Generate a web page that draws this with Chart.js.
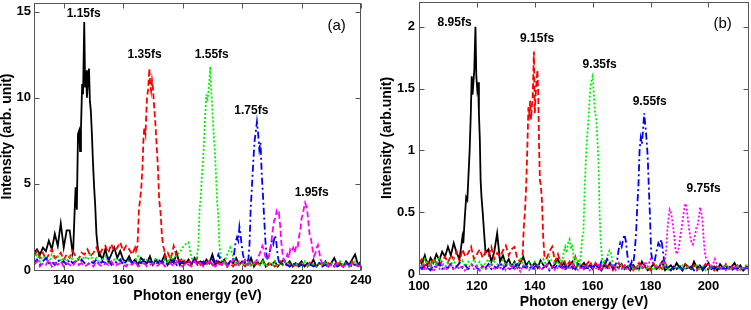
<!DOCTYPE html>
<html>
<head>
<meta charset="utf-8">
<script src="https://cdn.jsdelivr.net/npm/chart.js@4.4.1/dist/chart.umd.min.js"></script>
<style>
  html, body { margin: 0; padding: 0; background: #fff; }
  #wrap { position: relative; width: 751px; height: 310px; overflow: hidden; }
  #wrap canvas { position: absolute; top: 0; }
  #chartA { left: 0; }
  #chartB { left: 380px; }
</style>
</head>
<body>
<div id="wrap">
  <canvas id="chartA" width="375" height="310"></canvas>
  <canvas id="chartB" width="371" height="310"></canvas>
</div>
<script>
// ---- Panel (a): 130..240 eV, 1 eV baseline grid + finer samples around each peak ----
const energyA = [130,131,132,133,134,135,136,137,138,139,140,141,142,143,144,145,146,147,148,149,
  150,151,152,153,154,155,156,157,158,159,160,161,162,163,164,165,166,167,168,169,
  170,171,172,173,174,175,176,177,178,179,180,181,182,183,184,185,186,187,188,189,
  190,191,192,193,194,195,196,197,198,199,200,201,202,203,204,205,206,207,208,209,
  210,211,212,213,214,215,216,217,218,219,220,221,222,223,224,225,226,227,228,229,
  230,231,232,233,234,235,236,237,238,239,240];
const xTicksA = [140, 160, 180, 200, 220, 240];
const yTicksA = [0, 5, 10, 15];

const blackA = [1.0,1.2,0.9,1.3,1.1,1.7,1.2,2.1,1.4,2.7, 1.3,2.3,2.3,1.0,5,8,10,14,11,9,
  5,2,1.0,0.6,1.2,0.5,0.9,1.3,0.7,1.1, 0.6,0.5,0.8,0.4,0.6,0.3,0.7,0.5,0.4,0.8,
  0.3,0.6,0.4,0.5,0.9,0.3,0.6,0.4,1.0,0.3, 0.5,0.4,0.6,0.3,0.7,0.4,0.5,0.3,0.6,0.4,
  0.9,0.3,0.5,0.4,0.6,0.2,0.5,0.4,0.7,0.3, 0.5,0.4,0.3,0.7,0.2,0.5,0.3,0.6,0.2,0.4,
  0.3,0.5,0.2,0.4,0.6,0.3,0.5,0.2,0.4,0.3, 0.5,0.2,0.4,0.3,0.6,0.2,0.4,0.3,0.5,0.2,
  0.4,0.7,0.3,0.4,0.2,0.5,0.3,0.6,0.9,0.3,0.5];
const blackPeakXA = [143.2,143.6,144.0,144.4,144.8,145.2,145.5,145.8,146.2,146.5,146.9,147.2,147.5,147.8,148.1,148.5,148.8,149.1,149.5,149.8,150.2,150.6,151.0,151.4,151.9];
const blackPeakYA = [1.2,3.1,4.8,3.5,7.9,8.1,6.9,8.2,10.8,10.2,14.4,10.6,11.6,10.0,10.8,11.7,9.8,9.3,7.8,6.4,4.9,3.7,2.1,1.4,0.8];

const redA = [0.8,1.1,0.7,1.0,0.6,0.9,1.2,0.7,0.8,1.0, 0.6,0.9,0.7,1.1,0.8,0.6,1.0,0.9,1.2,0.8,
  1.0,1.3,0.9,1.2,1.4,1.0,1.5,1.1,1.3,1.6, 1.1,1.4,1.2,0.9,1.3,4,8,10,11,11,
  10,7,4,2,0.7,1.0,0.6,1.4,0.8,0.5, 0.7,0.4,0.6,0.3,0.5,0.7,0.3,0.5,0.4,0.6,
  0.3,0.5,0.4,0.2,0.6,0.3,0.4,0.2,0.5,0.3, 0.4,0.2,0.5,0.3,0.2,0.4,0.3,0.5,0.2,0.3,
  0.4,0.2,0.3,0.5,0.2,0.3,0.4,0.2,0.3,0.2, 0.4,0.3,0.2,0.5,0.3,0.2,0.4,0.3,0.2,0.4,
  0.3,0.2,0.5,0.3,0.2,0.4,0.3,0.5,0.2,0.3,0.4];
const redPeakXA = [164.3,164.8,165.3,165.7,166.1,166.5,166.8,167.1,167.5,168.0,168.4,168.8,169.1,169.4,169.7,170.0,170.4,170.8,171.3,171.7,172.1,172.6,173.0,173.4,173.8];
const redPeakYA = [1.1,1.4,3.5,4.1,4.8,6.0,7.5,8.3,7.9,10.0,10.5,11.7,10.8,10.4,11.0,10.6,9.5,8.6,7.1,5.9,4.1,3.3,2.1,1.4,1.2];

const greenA = [0.6,0.9,0.5,0.8,0.7,0.4,0.9,0.6,0.8,0.5, 0.7,0.5,0.8,0.6,0.4,0.7,0.5,0.8,0.6,0.9,
  0.5,0.7,0.4,0.6,0.8,0.5,0.3,0.6,0.4,0.7, 0.5,0.3,0.6,0.4,0.5,0.8,0.4,0.3,0.6,0.5,
  0.4,0.7,0.5,0.3,0.6,0.4,0.8,0.5,0.9,1.0, 1.3,1.5,1.6,0.7,0.5,1,5,8,10,12,
  9,5,2,0.6,0.4,0.9,1.3,0.8,0.4,0.3, 0.4,0.3,0.5,0.2,0.4,0.6,0.3,0.5,0.2,0.4,
  0.3,0.5,0.2,0.4,0.3,0.5,0.2,0.3,0.4,0.2, 0.3,0.5,0.2,0.4,0.3,0.2,0.4,0.3,0.5,0.2,
  0.4,0.3,0.2,0.5,0.3,0.4,0.2,0.3,0.5,0.2,0.3];
const greenPeakXA = [184.8,185.3,185.7,186.1,186.5,186.9,187.3,187.7,188.0,188.3,188.7,189.0,189.3,189.6,190.0,190.4,190.8,191.2,191.6,192.0,192.4,192.8];
const greenPeakYA = [0.8,1.4,3.5,4.2,5.6,6.4,7.9,9.3,10.2,9.8,10.4,11.0,11.8,10.5,9.3,8.0,7.0,5.6,4.0,3.1,1.4,0.8];

const blueA = [0.4,0.6,0.3,0.5,0.7,0.4,0.5,0.3,0.6,0.4, 0.5,0.3,0.6,0.4,0.5,0.3,0.6,0.4,0.3,0.5,
  0.4,0.6,0.3,0.5,0.4,0.7,0.3,0.5,0.4,0.6, 0.3,0.5,0.6,0.4,0.3,0.5,0.4,0.6,0.3,0.5,
  0.4,0.3,0.6,0.4,0.5,0.3,0.4,0.6,0.3,0.5, 0.4,0.3,0.5,0.4,0.6,0.3,0.4,0.5,0.3,0.4,
  0.6,0.3,0.9,0.5,0.4,0.3,0.5,1,2,2, 1,0.5,3,6,8,7,5,2,0.8,1.2,
  2,2,1,0.5,0.4,0.3,0.2,0.4,0.3,0.2, 0.3,0.2,0.4,0.3,0.2,0.3,0.4,0.2,0.3,0.2,
  0.3,0.4,0.2,0.3,0.2,0.4,0.3,0.2,0.3,0.4,0.2];
const bluePeakXA = [196.8,197.3,197.8,198.3,198.7,199.1,199.5,199.9,200.3,200.7,201.1,201.6,202.1,202.5,202.9,203.3,203.8,204.2,204.6,205.0,
  205.4,205.8,206.2,206.6,207.0,207.4,207.8,208.2,208.6,209.0,209.5,210.0,210.5,211.0,211.4,211.8,212.2,212.6,213.0];
const bluePeakYA = [0.5,0.9,1.6,1.9,1.7,2.5,2.0,1.4,0.9,0.6,0.4,0.5,0.6,1.5,3.6,4.8,6.4,7.5,8.0,8.6,
  7.9,7.0,7.4,5.6,4.4,3.1,1.8,0.9,0.6,0.8,1.2,1.7,1.5,2.0,1.8,1.1,0.6,0.4,0.3];

const magentaA = [0.3,0.5,0.2,0.4,0.3,0.6,0.2,0.4,0.3,0.5, 0.2,0.4,0.3,0.2,0.5,0.3,0.4,0.2,0.3,0.4,
  0.2,0.5,0.3,0.2,0.4,0.3,0.5,0.2,0.3,0.4, 0.3,0.2,0.4,0.3,0.5,0.2,0.3,0.4,0.2,0.3,
  0.4,0.2,0.3,0.5,0.2,0.3,0.4,0.2,0.5,0.3, 0.2,0.4,0.3,0.2,0.5,0.3,0.4,0.2,0.3,0.5,
  0.3,0.2,0.4,0.3,0.5,0.2,0.4,0.6,0.3,0.5, 0.4,0.6,0.3,0.5,0.4,0.6,1.0,1.3,0.7,1.2,
  2.5,3.2,3.3,1.5,0.6,0.8,1.2,1.1,1.4,2.0, 3.4,3.8,3.2,1.8,0.8,1.4,0.8,0.4,0.3,0.2,
  0.3,0.2,0.4,0.3,0.2,0.3,0.2,0.4,0.3,0.2,0.3];
const magentaPeakXA = [204.8,205.3,205.8,206.3,206.8,207.3,207.8,208.3,208.8,209.3,209.8,210.3,210.8,211.2,211.6,212.0,212.4,212.8,213.2,213.7,
  214.2,214.7,215.2,215.7,216.2,216.7,217.2,217.7,218.2,218.7,219.2,219.6,220.0,220.4,220.8,221.2,221.6,222.0,222.4,222.8,
  223.2,223.7,224.2,224.7,225.1,225.5,225.9,226.4,227.0];
const magentaPeakYA = [0.5,0.7,0.9,1.1,1.4,1.2,0.8,0.6,0.7,1.0,1.6,2.3,2.9,3.0,3.4,3.2,3.3,2.6,1.6,0.8,
  0.5,0.6,0.9,0.7,1.2,1.1,1.3,1.0,1.4,1.3,2.0,2.3,3.0,3.2,3.6,3.9,3.7,3.3,2.6,1.9,
  1.8,1.2,0.8,1.0,1.3,1.45,1.1,0.6,0.4];

const labelsA = ['1.15fs', '1.35fs', '1.55fs', '1.75fs', '1.95fs'];
const labelXA = [146.7, 167.2, 189.8, 203.1, 223.4];
const labelYA = [14.9, 12.5, 12.5, 9.23, 4.48];

// ---- Panel (b): 100..214 eV ----
const energyB = [100,101,102,103,104,105,106,107,108,109,110,111,112,113,114,115,116,117,118,119,
  120,121,122,123,124,125,126,127,128,129,130,131,132,133,134,135,136,137,138,139,
  140,141,142,143,144,145,146,147,148,149,150,151,152,153,154,155,156,157,158,159,
  160,161,162,163,164,165,166,167,168,169,170,171,172,173,174,175,176,177,178,179,
  180,181,182,183,184,185,186,187,188,189,190,191,192,193,194,195,196,197,198,199,
  200,201,202,203,204,205,206,207,208,209,210,211,212,213,214];
const xTicksB = [100, 120, 140, 160, 180, 200];
const yTicksB = [0, 0.5, 1, 1.5, 2];

const blackB = [0.12,0.08,0.15,0.06,0.13,0.09,0.16,0.11,0.18,0.14, 0.22,0.15,0.25,0.17,0.12,0.3,0.6,1.2,1.8,1.6,
  1.5,0.8,0.3,0.12,0.2,0.1,0.18,0.33,0.1,0.15, 0.08,0.12,0.06,0.1,0.05,0.09,0.14,0.07,0.1,0.06,
  0.09,0.05,0.11,0.07,0.06,0.1,0.05,0.08,0.12,0.06, 0.09,0.05,0.07,0.1,0.04,0.08,0.06,0.09,0.05,0.07,
  0.04,0.08,0.06,0.03,0.07,0.05,0.09,0.04,0.06,0.05, 0.08,0.04,0.06,0.03,0.07,0.05,0.04,0.1,0.06,0.03,
  0.05,0.08,0.04,0.06,0.1,0.03,0.05,0.07,0.04,0.09, 0.05,0.03,0.08,0.06,0.04,0.1,0.05,0.07,0.03,0.06,
  0.09,0.04,0.06,0.03,0.08,0.05,0.07,0.04,0.06,0.09, 0.04,0.07,0.03,0.06,0.05];
const blackPeakXB = [115.3,115.8,116.3,116.7,117.1,117.5,117.9,118.2,118.5,118.8,119.1,119.5,119.8,120.1,120.4,120.7,121.0,121.3,121.6,122.0,122.5,123.0];
const blackPeakYB = [0.25,0.45,0.62,0.6,0.8,1.0,1.3,1.6,1.45,1.55,1.65,2.0,1.6,1.5,1.55,1.3,1.1,0.75,0.62,0.5,0.33,0.17];

const redB = [0.08,0.12,0.05,0.1,0.07,0.13,0.09,0.06,0.11,0.14, 0.09,0.15,0.12,0.18,0.1,0.2,0.14,0.17,0.22,0.12,
  0.16,0.2,0.13,0.18,0.15,0.22,0.12,0.17,0.14,0.19, 0.23,0.15,0.2,0.22,0.12,0.1,0.5,1,1.4,1.8,
  1.4,1.6,0.7,0.3,0.12,0.18,0.22,0.1,0.16,0.08, 0.12,0.06,0.1,0.05,0.14,0.07,0.09,0.04,0.08,0.11,
  0.05,0.09,0.04,0.07,0.1,0.05,0.08,0.03,0.06,0.09, 0.04,0.07,0.05,0.08,0.03,0.06,0.09,0.04,0.07,0.05,
  0.03,0.08,0.05,0.06,0.04,0.09,0.05,0.03,0.07,0.04, 0.06,0.03,0.08,0.05,0.04,0.07,0.03,0.06,0.05,0.08,
  0.04,0.06,0.03,0.07,0.05,0.04,0.08,0.03,0.06,0.04, 0.07,0.03,0.05,0.04,0.06];
const redPeakXB = [135.8,136.2,136.6,137.0,137.4,137.8,138.1,138.4,138.7,139.0,139.3,139.7,140.0,140.3,140.6,140.9,141.2,141.5,141.8,142.1,142.5,142.9,143.3];
const redPeakYB = [0.15,0.38,0.5,0.7,1.0,1.35,1.3,1.4,1.25,1.35,1.45,1.8,1.3,1.45,1.55,1.65,1.45,1.0,0.75,0.72,0.58,0.3,0.15];

const greenB = [0.1,0.06,0.12,0.08,0.05,0.11,0.07,0.13,0.09,0.06, 0.1,0.07,0.12,0.05,0.09,0.11,0.06,0.1,0.08,0.12,
  0.07,0.1,0.05,0.09,0.12,0.06,0.1,0.08,0.05,0.11, 0.07,0.09,0.05,0.1,0.06,0.12,0.08,0.05,0.09,0.07,
  0.1,0.06,0.08,0.12,0.07,0.14,0.1,0.08,0.1,0.1, 0.2,0.2,0.3,0.2,0.1,0.1,0.3,0.7,1.1,1.5,
  1.6,1.3,0.9,0.1,0.1,0.1,0.2,0.1,0.06,0.04, 0.07,0.03,0.05,0.08,0.04,0.06,0.03,0.07,0.05,0.04,
  0.06,0.03,0.07,0.04,0.05,0.08,0.03,0.05,0.04,0.06, 0.03,0.07,0.04,0.06,0.05,0.03,0.08,0.04,0.06,0.03,
  0.05,0.07,0.03,0.06,0.04,0.05,0.08,0.03,0.05,0.04, 0.06,0.03,0.05,0.07,0.04];
const greenPeakXB = [148.5,149.0,149.5,150.0,150.5,151.0,151.5,152.0,152.5,153.0,153.5,154.0,154.5,155.0,155.5,156.0,
  156.4,156.8,157.2,157.6,158.0,158.4,158.8,159.2,159.6,160.0,160.4,160.8,161.2,161.6,162.0,162.4,162.8,
  163.3,163.8,164.3,164.8,165.3,165.8,166.3,166.8,167.3];
const greenPeakYB = [0.08,0.12,0.1,0.18,0.22,0.17,0.25,0.28,0.2,0.24,0.1,0.14,0.08,0.12,0.06,0.18,
  0.3,0.33,0.68,0.9,1.09,1.2,1.35,1.5,1.57,1.6,1.45,1.3,1.27,1.1,0.92,0.49,0.25,
  0.11,0.08,0.12,0.1,0.16,0.19,0.17,0.1,0.06];

const blueB = [0.06,0.04,0.08,0.05,0.03,0.07,0.05,0.09,0.04,0.06, 0.05,0.08,0.04,0.06,0.09,0.05,0.07,0.04,0.06,0.08,
  0.05,0.03,0.07,0.05,0.08,0.04,0.06,0.05,0.09,0.04, 0.07,0.05,0.03,0.06,0.08,0.04,0.06,0.05,0.07,0.03,
  0.06,0.08,0.04,0.05,0.07,0.03,0.06,0.05,0.08,0.04, 0.06,0.03,0.07,0.05,0.04,0.08,0.05,0.06,0.03,0.07,
  0.05,0.08,0.04,0.1,0.06,0.12,0.08,0.05,0.1,0.2, 0.2,0.3,0.1,0.1,0.1,0.3,1,1.1,1.2,0.9,
  0.2,0.1,0.2,0.2,0.3,0.1,0.05,0.03,0.06,0.04, 0.07,0.03,0.05,0.04,0.06,0.03,0.05,0.07,0.04,0.06,
  0.03,0.05,0.04,0.06,0.03,0.05,0.04,0.07,0.03,0.05, 0.04,0.06,0.03,0.05,0.04];
const bluePeakXB = [168.0,168.5,169.0,169.5,170.0,170.5,171.0,171.5,172.0,172.5,173.0,173.5,174.0,174.5,175.0,
  175.4,175.8,176.2,176.6,177.0,177.4,177.8,178.2,178.6,179.0,179.4,179.8,180.2,
  180.7,181.2,181.7,182.2,182.7,183.2,183.7,184.2,184.7,185.2];
const bluePeakYB = [0.08,0.12,0.2,0.25,0.22,0.28,0.32,0.26,0.15,0.08,0.06,0.1,0.07,0.18,0.33,
  0.55,0.71,1.0,1.1,1.05,1.17,1.3,1.2,1.09,0.95,0.7,0.46,0.17,
  0.1,0.08,0.14,0.2,0.25,0.23,0.28,0.2,0.1,0.06];

const magentaB = [0.04,0.07,0.03,0.05,0.08,0.02,0.06,0.04,0.07,0.03, 0.05,0.08,0.03,0.06,0.04,0.07,0.02,0.05,0.08,0.04,
  0.06,0.03,0.07,0.04,0.05,0.08,0.03,0.06,0.04,0.07, 0.03,0.05,0.08,0.04,0.06,0.02,0.07,0.05,0.03,0.06,
  0.04,0.07,0.03,0.05,0.08,0.04,0.06,0.03,0.05,0.07, 0.03,0.06,0.04,0.08,0.05,0.03,0.06,0.04,0.07,0.03,
  0.05,0.04,0.07,0.03,0.06,0.04,0.05,0.08,0.03,0.05, 0.04,0.07,0.03,0.05,0.06,0.04,0.08,0.05,0.1,0.06,
  0.12,0.08,0.05,0.07,0.1,0.2,0.5,0.45,0.2,0.2, 0.35,0.5,0.57,0.4,0.26,0.28,0.4,0.54,0.4,0.12,
  0.06,0.05,0.1,0.08,0.04,0.06,0.03,0.05,0.04,0.06, 0.03,0.05,0.04,0.06,0.03];
const magentaPeakXB = [184.5,185.0,185.4,185.8,186.2,186.6,187.0,187.4,187.8,188.2,188.6,189.0,189.4,189.8,190.2,190.6,191.0,191.4,191.8,192.1,
  192.5,192.9,193.3,193.7,194.1,194.6,195.0,195.5,195.9,196.3,196.7,197.1,197.5,197.9,198.3,198.7,199.2,199.8,200.4,201.0,
  201.6,202.2,202.8,203.4];
const magentaPeakYB = [0.06,0.12,0.2,0.35,0.45,0.52,0.5,0.45,0.38,0.3,0.2,0.16,0.18,0.22,0.3,0.35,0.42,0.49,0.55,0.57,
  0.52,0.44,0.36,0.3,0.26,0.24,0.28,0.33,0.38,0.4,0.46,0.54,0.5,0.44,0.3,0.18,0.12,0.1,0.06,0.04,
  0.08,0.12,0.08,0.04];

const labelsB = ['8.95fs', '9.15fs', '9.35fs', '9.55fs', '9.75fs'];
const labelXB = [112.3, 140.8, 162.4, 179.7, 198.3];
const labelYB = [2.03, 1.90, 1.69, 1.39, 0.686];

(function() {
  'use strict';

  const FONT = '"Liberation Sans", Arial, Helvetica, sans-serif';

  // line styles (MATLAB-ish: -, --, :, -., --/:)
  const styles = [
    { color: '#000000', dash: [],            order: 5 },
    { color: '#ff0000', dash: [6, 3],        order: 4 },
    { color: '#00ee00', dash: [2, 2],        order: 3 },
    { color: '#0000ff', dash: [7, 3, 2, 3],  order: 2 },
    { color: '#ff00ff', dash: [6, 3],        order: 1 }
  ];

  // baseline points outside the peak window + the fine peak samples
  function buildSeries(grid, base, peakX, peakY) {
    const lo = peakX[0], hi = peakX[peakX.length - 1];
    const pts = [];
    grid.forEach((x, i) => { if (x < lo || x > hi) pts.push({ x: x, y: base[i] }); });
    peakX.forEach((x, i) => pts.push({ x: x, y: peakY[i] }));
    return pts.sort((a, b) => a.x - b.x);
  }

  // box + inward ticks + peak labels
  const framePlugin = {
    id: 'frame',
    afterDatasetsDraw(chart, args, opts) {
      const ctx = chart.ctx, a = chart.chartArea;
      const xs = chart.scales.x, ys = chart.scales.y;
      const L = Math.round(a.left) + 0.5, R = Math.round(a.right) - 0.5;
      const T = Math.round(a.top) + 0.5, B = Math.round(a.bottom) + 0.5;
      ctx.save();
      ctx.strokeStyle = '#555';
      ctx.lineWidth = 1;
      ctx.beginPath();
      xs.ticks.forEach(t => {
        const px = Math.round(xs.getPixelForValue(t.value)) + 0.5;
        ctx.moveTo(px, B); ctx.lineTo(px, B - 5);
        ctx.moveTo(px, T); ctx.lineTo(px, T + 5);
      });
      ys.ticks.forEach(t => {
        const py = Math.round(ys.getPixelForValue(t.value)) + 0.5;
        ctx.moveTo(L, py); ctx.lineTo(L + 5, py);
        ctx.moveTo(R, py); ctx.lineTo(R - 5, py);
      });
      ctx.stroke();
      ctx.strokeRect(L, T, R - L, B - T);

      ctx.fillStyle = '#000';
      ctx.textAlign = 'center';
      ctx.textBaseline = 'middle';
      ctx.font = 'bold 12px ' + FONT;
      opts.labels.forEach((s, i) => {
        ctx.fillText(s, xs.getPixelForValue(opts.labelX[i]), ys.getPixelForValue(opts.labelY[i]));
      });
      ctx.font = '15px ' + FONT;
      ctx.fillText(opts.tag, xs.getPixelForValue(opts.tagX), ys.getPixelForValue(opts.tagY));
      ctx.restore();
    }
  };

  function render(canvasId, p) {
    const canvas = document.getElementById(canvasId);
    const tickFont = { family: FONT, size: 13, weight: 'bold' };
    const titleFont = { family: FONT, size: 14, weight: 'bold', lineHeight: 1 };

    const datasets = p.series.map((s, i) => ({
      data: buildSeries(p.grid, s[0], s[1], s[2]),
      borderColor: styles[i].color,
      borderWidth: 1.8,
      borderDash: (i === 4 && p.dottedLast) ? [2, 2] : styles[i].dash,
      pointRadius: 0,
      tension: 0,
      fill: false,
      order: styles[i].order
    }));

    return new Chart(canvas.getContext('2d'), {
      type: 'line',
      data: { datasets: datasets },
      plugins: [framePlugin],
      options: {
        responsive: false,
        animation: false,
        devicePixelRatio: 1,
        layout: { padding: p.pad },
        plugins: {
          legend: { display: false },
          tooltip: { enabled: false },
          frame: p.frame
        },
        scales: {
          x: {
            type: 'linear',
            min: p.xMin,
            max: p.xMax,
            afterBuildTicks: s => { s.ticks = p.xTicks.map(v => ({ value: v })); },
            afterFit: s => { s.height = p.bottomH; s.paddingLeft = 0; s.paddingRight = 0; },
            grid: { display: false, drawTicks: false },
            border: { display: false },
            ticks: { font: tickFont, color: '#000', padding: p.xTickPad, maxRotation: 0, autoSkip: false, callback: v => String(v) },
            title: { display: true, text: 'Photon energy (eV)', font: titleFont, color: '#000', padding: { top: 0, bottom: p.xTitlePad } }
          },
          y: {
            type: 'linear',
            min: 0,
            max: p.yMax,
            afterBuildTicks: s => { s.ticks = p.yTicks.map(v => ({ value: v })); },
            afterFit: s => { s.width = p.leftW; s.paddingTop = 0; s.paddingBottom = 0; },
            grid: { display: false, drawTicks: false },
            border: { display: false },
            ticks: { font: tickFont, color: '#000', padding: p.yTickPad, autoSkip: false, callback: v => String(v) },
            title: { display: true, text: p.yTitle, font: titleFont, color: '#000', padding: 0 }
          }
        }
      }
    });
  }

  render('chartA', {
    grid: energyA,
    series: [
      [blackA, blackPeakXA, blackPeakYA],
      [redA, redPeakXA, redPeakYA],
      [greenA, greenPeakXA, greenPeakYA],
      [blueA, bluePeakXA, bluePeakYA],
      [magentaA, magentaPeakXA, magentaPeakYA]
    ],
    dottedLast: false,
    xMin: 130, xMax: 240, xTicks: xTicksA,
    yMax: 15.5, yTicks: yTicksA,
    yTitle: 'Intensity (arb. unit)',
    pad: { left: 0, right: 14, top: 3, bottom: 0 },
    leftW: 34, bottomH: 40,
    xTickPad: 3, xTitlePad: 7, yTickPad: 3,
    frame: { labels: labelsA, labelX: labelXA, labelY: labelYA, tag: '(a)', tagX: 231.8, tagY: 14.2 }
  });

  render('chartB', {
    grid: energyB,
    series: [
      [blackB, blackPeakXB, blackPeakYB],
      [redB, redPeakXB, redPeakYB],
      [greenB, greenPeakXB, greenPeakYB],
      [blueB, bluePeakXB, bluePeakYB],
      [magentaB, magentaPeakXB, magentaPeakYB]
    ],
    dottedLast: true,
    xMin: 100, xMax: 214, xTicks: xTicksB,
    yMax: 2.2, yTicks: yTicksB,
    yTitle: 'Intensity (arb.unit)',
    pad: { left: 0, right: 2, top: 2, bottom: 0 },
    leftW: 39, bottomH: 36,
    xTickPad: 5, xTitlePad: 1, yTickPad: 4,
    frame: { labels: labelsB, labelX: labelXB, labelY: labelYB, tag: '(b)', tagX: 204.9, tagY: 2.02 }
  });
})();
</script>
</body>
</html>
